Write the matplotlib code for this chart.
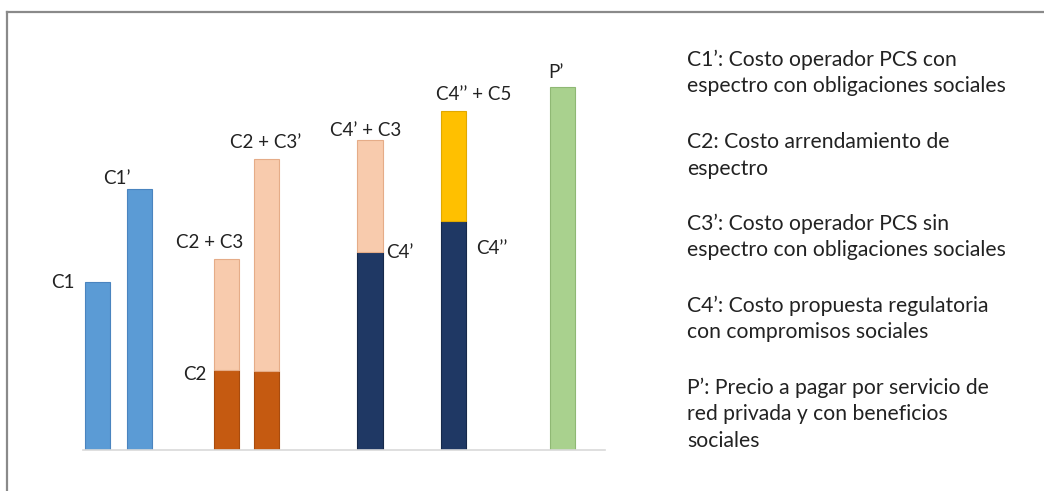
import matplotlib
matplotlib.use("Agg")
import matplotlib.pyplot as plt
from matplotlib.lines import Line2D

plt.rcParams['font.family'] = ['Lato', 'DejaVu Sans']

# Bar values (arbitrary cost units)
bars = ["C1", "C1’", "C2 + C3", "C2 + C3’", "C4’ + C3", "C4’’ + C5", "P’"]
base_values = [168, 261, 80, 79, 198, 229, 363]
top_values = [0, 0, 111, 212, 112, 110, 0]

legend_lines = [
    ["C1’: Costo operador PCS con", "espectro con obligaciones sociales"],
    ["C2: Costo arrendamiento de", "espectro"],
    ["C3’: Costo operador PCS sin", "espectro con obligaciones sociales"],
    ["C4’: Costo propuesta regulatoria", "con compromisos sociales"],
    ["P’: Precio a pagar por servicio de", "red privada y con beneficios", "sociales"],
]

# layout
positions = [0, 1, 3.07, 4.03, 6.5, 8.5, 11.1]
base_colors = ["#5b9bd5", "#5b9bd5", "#c55a11", "#c55a11", "#1f3864", "#1f3864", "#a9d18e"]
base_edges = ["#4a84bf", "#4a84bf", "#a94b0d", "#a94b0d", "#16294a", "#16294a", "#8fb874"]
top_colors = ["none", "none", "#f8cbad", "#f8cbad", "#f8cbad", "#ffc000", "none"]
top_edges = ["none", "none", "#e5ac88", "#e5ac88", "#e5ac88", "#e0a800", "none"]
width = 0.6

W, H = 1044, 491
fig = plt.figure(figsize=(W / 100, H / 100), dpi=100)
ax = fig.add_axes([83 / W, (H - 450) / H, (605 - 83) / W, 400 / H])

ax.bar(positions, base_values, width=width, color=base_colors,
       edgecolor=base_edges, linewidth=0.8, zorder=2)
for p, b, t, c, e in zip(positions, base_values, top_values, top_colors, top_edges):
    if t > 0:
        ax.bar(p, t, bottom=b, width=width, color=c, edgecolor=e,
               linewidth=0.8, zorder=2)

ax.set_xlim(-0.351, 12.11)
ax.set_ylim(0, 400)
for s in ["top", "right", "left"]:
    ax.spines[s].set_visible(False)
ax.spines["bottom"].set_color("#d9d9d9")
ax.spines["bottom"].set_linewidth(1.2)
ax.set_xticks([])
ax.set_yticks([])

fs = 13.5
fs_def = 15.2
tc = "#222222"
totals = [b + t for b, t in zip(base_values, top_values)]

# labels at bar tops
top_offsets = [(-0.83, -1), (-0.55, 11), (-0.4, 17), (-0.03, 16),
               (-0.1, 10), (0.48, 16), (-0.15, 15)]
for lbl, p, tot, (dx, dy) in zip(bars, positions, totals, top_offsets):
    ax.text(p + dx, tot + dy, lbl, ha="center", va="center", fontsize=fs, color=tc)

# labels at lower segments
ax.text(positions[2] - 0.75, base_values[2] - 5, "C2", ha="center", va="center",
        fontsize=fs, color=tc)
ax.text(positions[4] + 0.72, base_values[4], "C4’", ha="center", va="center",
        fontsize=fs, color=tc)
ax.text(positions[5] + 0.91, base_values[5] - 27, "C4’’", ha="center", va="center",
        fontsize=fs, color=tc)

# definitions on the right
y = 60
for block in legend_lines:
    for i, line in enumerate(block):
        fig.text(687 / W, 1 - (y + 26.5 * i) / H, line, ha="left", va="center",
                 fontsize=fs_def, color=tc)
    y += 82

# frame
fig.add_artist(Line2D([7 / W, 1], [1 - 12 / H, 1 - 12 / H], color="#8a8a8a", lw=1.6))
fig.add_artist(Line2D([7 / W, 7 / W], [0, 1 - 12 / H], color="#8a8a8a", lw=1.6))

fig.savefig("out.png", dpi=100)
